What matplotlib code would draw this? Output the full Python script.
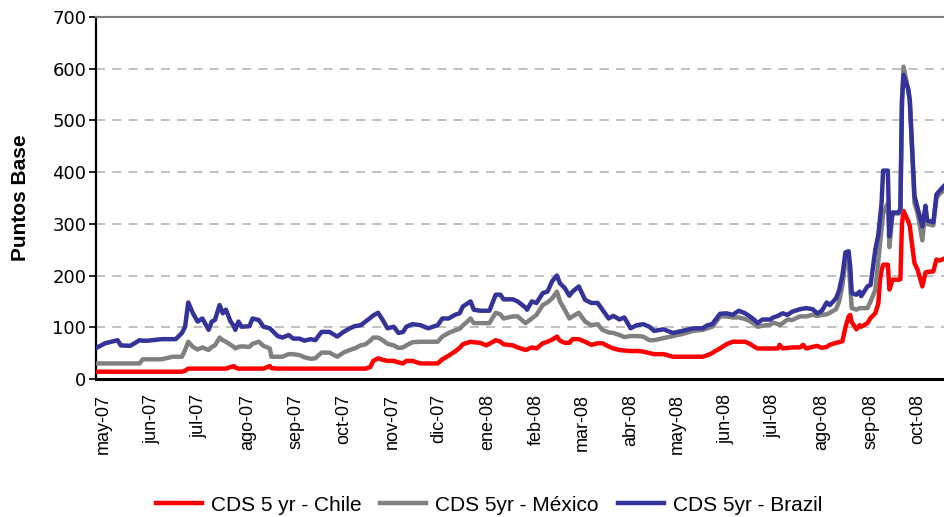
import pandas as pd
import matplotlib
matplotlib.use("Agg")
import matplotlib.pyplot as plt

plt.rcParams['font.family'] = ['Liberation Sans', 'DejaVu Sans']

# fechas de lectura (aprox.) y spreads en puntos base
dates = [
    "2007-04-27", "2007-05-02", "2007-05-10", "2007-05-12", "2007-05-18", "2007-05-24",
    "2007-05-26", "2007-05-29", "2007-06-07", "2007-06-14", "2007-06-16", "2007-06-20",
    "2007-06-22", "2007-06-24", "2007-06-27", "2007-06-30", "2007-07-03", "2007-07-07",
    "2007-07-09", "2007-07-11", "2007-07-14", "2007-07-16", "2007-07-18", "2007-07-21",
    "2007-07-23", "2007-07-24", "2007-07-26", "2007-07-28", "2007-08-02", "2007-08-04",
    "2007-08-08", "2007-08-11", "2007-08-15", "2007-08-16", "2007-08-20", "2007-08-23",
    "2007-08-27", "2007-08-30", "2007-09-03", "2007-09-06", "2007-09-10",
    "2007-09-13", "2007-09-17", "2007-09-22", "2007-09-27", "2007-10-01", "2007-10-05",
    "2007-10-08", "2007-10-12", "2007-10-15", "2007-10-18", "2007-10-20", "2007-10-23",
    "2007-10-26", "2007-10-29", "2007-11-02", "2007-11-05", "2007-11-08", "2007-11-10",
    "2007-11-14", "2007-11-19", "2007-11-24", "2007-11-30", "2007-12-03", "2007-12-07",
    "2007-12-11", "2007-12-14", "2007-12-16", "2007-12-21", "2007-12-23", "2007-12-27",
    "2007-12-31", "2008-01-02", "2008-01-06", "2008-01-09", "2008-01-11", "2008-01-17",
    "2008-01-20",
    "2008-01-25", "2008-01-26", "2008-01-29", "2008-02-01", "2008-02-05", "2008-02-08",
    "2008-02-11", "2008-02-14", "2008-02-16", "2008-02-19", "2008-02-22", "2008-02-24",
    "2008-02-28", "2008-03-03", "2008-03-07", "2008-03-11", "2008-03-14", "2008-03-18",
    "2008-03-21", "2008-03-25", "2008-03-28", "2008-04-01", "2008-04-05", "2008-04-09",
    "2008-04-13", "2008-04-16", "2008-04-22", "2008-04-28", "2008-05-04", "2008-05-11",
    "2008-05-17", "2008-05-20", "2008-05-23", "2008-05-25", "2008-05-28", "2008-06-01",
    "2008-06-05", "2008-06-09", "2008-06-13", "2008-06-16", "2008-06-19", "2008-06-21",
    "2008-06-24", "2008-06-29", "2008-07-01", "2008-07-04", "2008-07-05", "2008-07-07",
    "2008-07-10", "2008-07-13", "2008-07-18", "2008-07-20", "2008-07-22", "2008-07-26",
    "2008-07-29", "2008-08-01", "2008-08-04", "2008-08-06", "2008-08-10", "2008-08-12",
    "2008-08-14", "2008-08-16", "2008-08-18", "2008-08-19", "2008-08-20", "2008-08-23",
    "2008-08-25",
    "2008-08-26", "2008-08-30", "2008-09-01", "2008-09-04", "2008-09-06", "2008-09-07",
    "2008-09-08", "2008-09-09", "2008-09-12", "2008-09-13", "2008-09-15", "2008-09-19",
    "2008-09-20", "2008-09-21", "2008-09-22", "2008-09-25", "2008-09-26", "2008-09-27",
    "2008-09-29", "2008-10-01", "2008-10-04", "2008-10-06", "2008-10-07", "2008-10-11",
    "2008-10-13", "2008-10-15", "2008-10-18", "2008-10-19",
]

brazil = [
    61, 69, 75, 65, 64, 75, 74, 74, 77, 77, 77, 89,
    101, 148, 127, 111, 117, 95, 111, 114, 143, 127, 134, 111,
    103, 95, 111, 101, 102, 117, 114, 101, 98, 95, 83, 80,
    85, 78, 78, 74, 77,
    75, 91, 91, 82, 91, 98, 102, 104, 111, 118, 123, 128,
    114, 98, 101, 89, 91, 101, 106, 104, 98, 104, 117, 117,
    124, 127, 140, 150, 134, 132, 132, 132, 163, 163, 154, 154,
    150,
    138, 134, 150, 147, 166, 169, 189, 200, 185, 176, 161, 169,
    179, 153, 147, 147, 134, 117, 122, 115, 119, 98, 104, 106,
    101, 93, 96, 89, 93, 98, 98, 104, 106, 114, 126, 127,
    124, 132, 127, 121, 114, 108, 115, 115, 119, 122, 124, 127,
    124, 130, 135, 136, 137, 135, 127, 132, 148, 143, 156, 172,
    200, 245, 247, 218, 166, 163, 169,
    160, 179, 182, 250, 280, 309, 340, 403, 403, 276, 322, 322,
    330, 540, 588, 560, 540, 477, 354, 330, 295, 335, 307, 303,
    357, 364, 374, 376,
]

mexico = [
    30, 30, 30, 30, 30, 30, 38, 38, 38, 43, 43, 43,
    56, 72, 62, 57, 61, 56, 62, 65, 80, 75, 72, 66,
    62, 59, 62, 63, 62, 68, 72, 64, 59, 43, 43, 43,
    48, 48, 46, 42, 39,
    40, 51, 51, 43, 51, 56, 59, 65, 67, 74, 80, 80,
    75, 68, 65, 60, 61, 65, 71, 72, 72, 72, 82, 89,
    94, 97, 103, 117, 108, 108, 108, 108, 128, 125, 117, 121,
    121,
    108, 110, 117, 124, 143, 148, 156, 169, 150, 134, 117, 121,
    128, 111, 104, 106, 95, 90, 89, 85, 81, 83, 83, 82,
    75, 75, 79, 83, 87, 93, 95, 98, 101, 108, 121, 121,
    119, 119, 116, 112, 106, 101, 103, 105, 109, 106, 104, 108,
    115, 114, 121, 121, 121, 124, 122, 124, 125, 128, 135, 150,
    180, 228, 232, 180, 137, 134, 137,
    137, 137, 150, 172, 230, 260, 290, 320, 340, 255, 320, 320,
    325, 530, 604, 560, 535, 470, 340, 320, 268, 330, 300, 297,
    350, 358, 365, 367,
]

chile = [
    14, 14, 14, 14, 14, 14, 14, 14, 14, 14, 14, 14,
    16, 20, 20, 20, 20, 20, 20, 20, 20, 20, 20, 23,
    25, 22, 20, 20, 20, 20, 20, 20, 25, 21, 20, 20,
    20, 20, 20, 20, 20,
    20, 20, 20, 20, 20, 20, 20, 20, 20, 23, 35, 40,
    37, 35, 35, 32, 30, 35, 35, 30, 30, 30, 38, 45,
    53, 60, 67, 72, 71, 70, 65, 68, 75, 72, 67, 65,
    61,
    56, 57, 61, 59, 69, 72, 76, 82, 74, 70, 70, 77,
    77, 72, 66, 69, 69, 63, 59, 56, 55, 54, 54, 53,
    50, 48, 48, 43, 43, 43, 43, 46, 50, 54, 59, 67,
    72, 72, 72, 68, 62, 59, 59, 59, 59, 59, 66, 59,
    60, 61, 61, 66, 59, 62, 64, 60, 62, 66, 70, 71,
    73, 100, 121, 124, 110, 96, 104,
    101, 108, 118, 127, 147, 192, 210, 221, 221, 173, 192, 192,
    193, 300, 325, 305, 296, 270, 224, 211, 179, 206, 207, 208,
    231, 229, 233, 234,
]

tick_labels = ["may-07", "jun-07", "jul-07", "ago-07", "sep-07", "oct-07",
               "nov-07", "dic-07", "ene-08", "feb-08", "mar-08", "abr-08",
               "may-08", "jun-08", "jul-08", "ago-08", "sep-08", "oct-08"]

x = pd.to_datetime(dates)

fig = plt.figure(figsize=(9.44, 5.17), dpi=100)
ax = fig.add_axes([0.1017, 0.267, 0.8983, 0.700])

ax.plot(x, chile, color='#FF0000', lw=3.2, label='CDS 5 yr - Chile', zorder=3)
ax.plot(x, mexico, color='#808080', lw=3.2, label='CDS 5yr - México', zorder=3)
ax.plot(x, brazil, color='#333399', lw=3.2, label='CDS 5yr - Brazil', zorder=4)

start = pd.Timestamp("2007-05-01")
ax.set_xlim(start - pd.Timedelta(days=4.8), start + pd.Timedelta(days=535.8))
ax.set_ylim(0, 700)
ax.set_yticks(range(0, 701, 100))

ticks = pd.date_range("2007-05-01", "2008-10-01", freq="MS")
ax.set_xticks(ticks)
ax.set_xticklabels(tick_labels, rotation=90, fontsize=13)
ax.tick_params(axis='x', length=0, pad=11)
ax.tick_params(axis='y', length=5, width=1.2, pad=2, labelsize=13)
for lab in ax.get_yticklabels():
    lab.set_family('DejaVu Sans')

ax.yaxis.grid(True, color='#BBBBBB', lw=1.3, linestyle=(0, (5, 4)), zorder=0)
ax.set_axisbelow(True)

ax.spines['right'].set_visible(False)
ax.spines['top'].set_color('#808080')
ax.spines['top'].set_linewidth(1.5)
ax.spines['left'].set_linewidth(1.6)
ax.spines['bottom'].set_linewidth(2.2)

ax.set_ylabel('Puntos Base', fontsize=15, fontweight='bold', labelpad=16)

fig.legend(loc='center', bbox_to_anchor=(0.518, 0.023), ncol=3, frameon=False,
           fontsize=15, handlelength=2.2, handletextpad=0.45, columnspacing=0.9)

fig.savefig("out.png", dpi=100)
